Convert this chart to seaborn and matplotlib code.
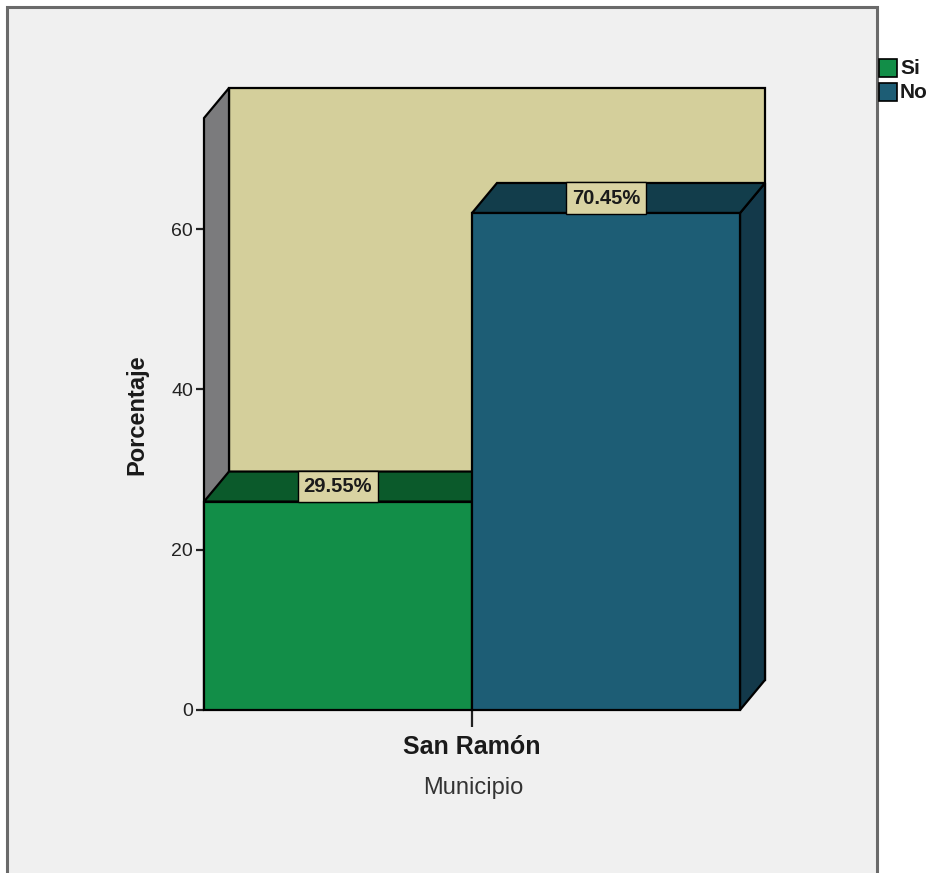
import matplotlib
matplotlib.use("Agg")
import matplotlib.pyplot as plt
import seaborn as sns
import pandas as pd
from matplotlib.patches import Polygon, Rectangle

# ---------------- data ----------------
municipios = ["San Ramón"]
respuestas = ["Si", "No"]
porcentaje = [26.0, 62.0]          # bar heights on the Porcentaje axis
etiquetas = ["29.55%", "70.45%"]   # value labels shown on the bars
y_ticks = [0, 20, 40, 60]

# ---------------- style ----------------
front_cols = ["#128e48", "#1d5d75"]
top_cols = ["#0b5a2b", "#123d4b"]
side_cols = ["#0b4d25", "#13394a"]
wall_col = "#d4cf9b"
side_wall_col = "#7b7b7d"
label_box = "#d9d3a2"
bg = "#f0f0f0"

sns.set_theme(style="white")
plt.rcParams["font.family"] = ["Liberation Sans", "DejaVu Sans"]

W, Hpx = 930, 873
fig = plt.figure(figsize=(W / 100, Hpx / 100), dpi=100)
fig.patch.set_facecolor("white")

# outer panel with border
fig.patches.append(Rectangle((7 / W, -0.05), 870 / W, (Hpx - 7) / Hpx + 0.05,
                             transform=fig.transFigure, facecolor=bg,
                             edgecolor="#6a6a6a", lw=2.2, zorder=-10))

# axes geometry (pixel based)
px_left, px_right, px_bottom, px_top = 204, 766, 710, 88
ax = fig.add_axes([px_left / W, (Hpx - px_bottom) / Hpx,
                   (px_right - px_left) / W, (px_bottom - px_top) / Hpx])
ax.set_facecolor("none")
ax.set_zorder(1)

px_per_x = 670.0
ddx = 25 / px_per_x     # depth offset (x, data units)
ddy = 3.75              # depth offset (y, data units)
wall_h = 73.85

df = pd.DataFrame({"Municipio": municipios * len(respuestas),
                   "Respuesta": respuestas,
                   "Porcentaje": porcentaje})

sns.barplot(data=df, x="Municipio", y="Porcentaje", hue="Respuesta",
            hue_order=respuestas, palette=front_cols, width=0.8,
            saturation=1, edgecolor="black", linewidth=1.6,
            legend=False, ax=ax, zorder=4)

x_min = -0.4
ax.set_xlim(x_min, x_min + (px_right - px_left) / px_per_x)
ax.set_ylim(0, wall_h + ddy)

# walls
ax.add_patch(Polygon([(x_min + ddx, ddy), (0.4 + ddx, ddy),
                      (0.4 + ddx, wall_h + ddy), (x_min + ddx, wall_h + ddy)],
                     closed=True, facecolor=wall_col, edgecolor="black",
                     lw=1.6, zorder=1))
ax.add_patch(Polygon([(x_min, 0), (x_min, wall_h),
                      (x_min + ddx, wall_h + ddy), (x_min + ddx, ddy)],
                     closed=True, facecolor=side_wall_col, edgecolor="black",
                     lw=1.6, zorder=1))

bars = [p for p in ax.patches if isinstance(p, Rectangle)][:len(respuestas)]
bars = sorted(bars, key=lambda r: r.get_x())
for i, r in enumerate(bars):
    x0 = r.get_x()
    x1 = x0 + r.get_width()
    h = r.get_height()
    ax.add_patch(Polygon([(x0, h), (x0 + ddx, h + ddy), (x1 + ddx, h + ddy), (x1, h)],
                         closed=True, facecolor=top_cols[i], edgecolor="black",
                         lw=1.6, zorder=3))
    ax.add_patch(Polygon([(x1, 0), (x1 + ddx, ddy), (x1 + ddx, h + ddy), (x1, h)],
                         closed=True, facecolor=side_cols[i], edgecolor="black",
                         lw=1.6, zorder=2))
    ax.text((x0 + x1) / 2, h + ddy / 2, etiquetas[i], ha="center", va="center",
            fontsize=14.5, fontweight="bold", color="#1a1a1a", zorder=6,
            bbox=dict(boxstyle="square,pad=0.3", facecolor=label_box,
                      edgecolor="black", lw=1.0))

for p in ax.patches:
    p.set_clip_on(False)

for s in ax.spines.values():
    s.set_visible(False)

ax.set_yticks(y_ticks)
ax.set_yticklabels([str(t) for t in y_ticks])
ax.tick_params(axis="y", left=True, length=6, width=1.6, color="#222222",
               labelsize=14, labelcolor="#222222", pad=2)
ax.tick_params(axis="x", bottom=True, length=12, width=1.6, color="#222222",
               labelsize=18, pad=6)
for lab in ax.get_xticklabels():
    lab.set_fontweight("bold")
    lab.set_color("#1a1a1a")

ax.set_ylabel("Porcentaje", fontsize=17, fontweight="bold", color="#1a1a1a")
ax.yaxis.set_label_coords((137 - px_left) / (px_right - px_left),
                          (px_bottom - 415) / (px_bottom - px_top))
ax.yaxis.label.set_va("center")
ax.set_xlabel("Municipio", fontsize=17, color="#333333")
ax.xaxis.set_label_coords((473 - px_left) / (px_right - px_left),
                          (px_bottom - 788) / (px_bottom - px_top))
ax.xaxis.label.set_va("center")

# legend
for i, name in enumerate(respuestas):
    yc = 68 + 24 * i
    fig.patches.append(Rectangle((879 / W, (Hpx - yc - 9) / Hpx), 18 / W, 18 / Hpx,
                                 transform=fig.transFigure, facecolor=front_cols[i],
                                 edgecolor="black", lw=1.2, zorder=5))
    fig.text(900 / W, (Hpx - yc) / Hpx, name, ha="left", va="center",
             fontsize=15, fontweight="bold", color="#1a1a1a")

fig.savefig("out.png", dpi=100, facecolor=fig.get_facecolor())
